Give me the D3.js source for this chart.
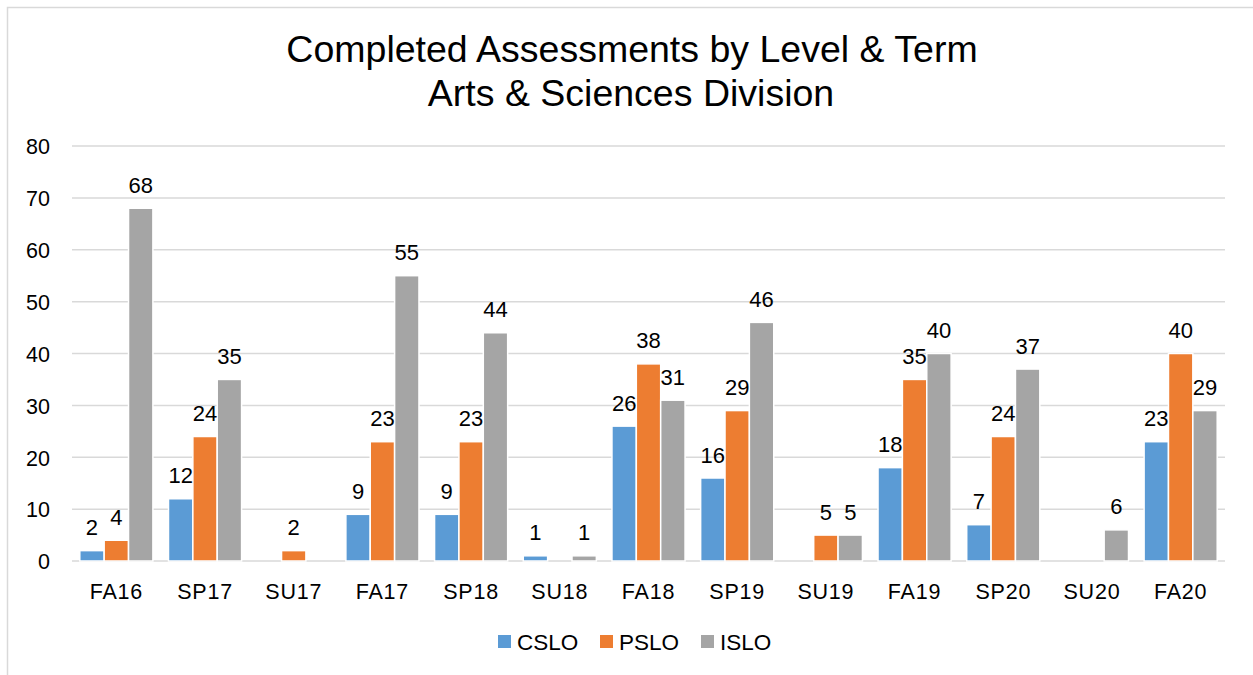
<!DOCTYPE html>
<html>
<head>
<meta charset="utf-8">
<script src="https://cdn.jsdelivr.net/npm/d3@7/dist/d3.min.js"></script>
<style>
  html, body { margin: 0; padding: 0; background: #fff; }
  svg { display: block; font-family: "Liberation Sans", Arial, sans-serif; }
</style>
</head>
<body>
<svg id="chart" width="1253" height="675"></svg>
<script>
const categories = ["FA16","SP17","SU17","FA17","SP18","SU18","FA18","SP19","SU19","FA19","SP20","SU20","FA20"];
const seriesNames = ["CSLO","PSLO","ISLO"];
const cslo = [2, 12, null, 9, 9, 1, 26, 16, null, 18, 7, null, 23];
const pslo = [4, 24, 2, 23, 23, null, 38, 29, 5, 35, 24, null, 40];
const islo = [68, 35, null, 55, 44, 1, 31, 46, 5, 40, 37, 6, 29];
const colors = ["#5B9BD5", "#ED7D31", "#A5A5A5"];
const yTicks = [0,10,20,30,40,50,60,70,80];
const titleLines = ["Completed Assessments by Level & Term", "Arts & Sciences Division"];

const seriesValues = [cslo, pslo, islo];
const svg = d3.select("#chart");

// outer border
svg.append("rect").attr("x", 7.5).attr("y", 7.5).attr("width", 1270).attr("height", 700)
  .attr("fill", "#fff").attr("stroke", "#d9d9d9").attr("stroke-width", 1.5);

// title
svg.append("text").attr("x", 632).attr("y", 62).attr("text-anchor", "middle")
  .attr("font-size", 37.5).attr("fill", "#000").text(titleLines[0]);
svg.append("text").attr("x", 631).attr("y", 106).attr("text-anchor", "middle")
  .attr("font-size", 37.5).attr("fill", "#000").text(titleLines[1]);

const plotL = 72, plotR = 1225, plotT = 146, plotB = 561;
const x0 = d3.scaleBand().domain(categories).range([plotL, plotR]).padding(0);
const x1 = d3.scaleBand().domain(seriesNames).range([0, x0.bandwidth()]).paddingInner(0).paddingOuter(0.32);
const y = d3.scaleLinear().domain([0, 80]).range([plotB, plotT]);

// gridlines
svg.append("g").selectAll("line").data(yTicks).join("line")
  .attr("x1", plotL).attr("x2", plotR)
  .attr("y1", d => y(d)).attr("y2", d => y(d))
  .attr("stroke", "#d9d9d9").attr("stroke-width", 1.5);

// y axis labels
const yAxis = d3.axisLeft(y).tickValues(yTicks).tickSize(0).tickPadding(0);
const yg = svg.append("g").attr("transform", `translate(50,0)`).call(yAxis);
yg.select(".domain").remove();
yg.selectAll("text").attr("font-size", 21.5).attr("fill", "#000")
  .attr("font-family", '"Liberation Sans", Arial, sans-serif').attr("dy", "0.36em");

// x axis labels
const xAxis = d3.axisBottom(x0).tickSize(0).tickPadding(0);
const xg = svg.append("g").attr("transform", `translate(0,${plotB})`).call(xAxis);
xg.select(".domain").remove();
xg.selectAll("text").attr("font-size", 21.5).attr("fill", "#000")
  .attr("font-family", '"Liberation Sans", Arial, sans-serif')
  .attr("y", 38).attr("dy", 0).attr("letter-spacing", 0.8);

// bars
const data = [];
categories.forEach((c, i) => {
  seriesNames.forEach((s, j) => {
    data.push({cat: c, series: s, value: seriesValues[j][i], color: colors[j]});
  });
});
const bars = data.filter(d => d.value !== null);
svg.append("g").selectAll("rect").data(bars).join("rect")
  .attr("x", d => x0(d.cat) + x1(d.series))
  .attr("width", x1.bandwidth())
  .attr("y", d => y(d.value))
  .attr("height", d => y(0) - y(d.value))
  .attr("fill", d => d.color)
  .attr("stroke", "#fff").attr("stroke-width", 1.5);

// data labels
svg.append("g").selectAll("text").data(bars).join("text")
  .attr("x", d => x0(d.cat) + x1(d.series) + x1.bandwidth() / 2)
  .attr("y", d => y(d.value) - 15.5)
  .attr("text-anchor", "middle").attr("font-size", 22).attr("fill", "#000")
  .text(d => d.value);

// legend
const legendItems = [{n: "CSLO", x: 498}, {n: "PSLO", x: 600}, {n: "ISLO", x: 701}];
const lg = svg.append("g");
legendItems.forEach((it, i) => {
  lg.append("rect").attr("x", it.x).attr("y", 635).attr("width", 13).attr("height", 13).attr("fill", colors[i]);
  lg.append("text").attr("x", it.x + 19).attr("y", 650).attr("font-size", 22.5).attr("fill", "#000").text(seriesNames[i]);
});
</script>
</body>
</html>
